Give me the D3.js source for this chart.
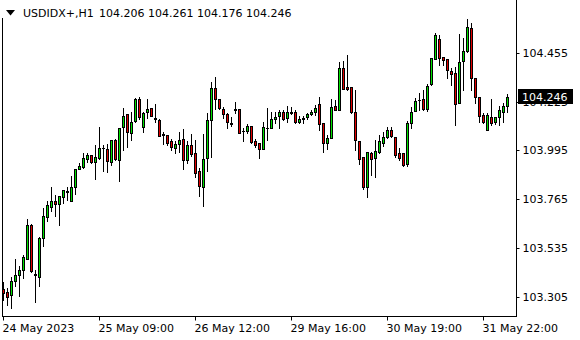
<!DOCTYPE html>
<html>
<head>
<meta charset="utf-8">
<script src="https://cdn.jsdelivr.net/npm/d3@7"></script>
<style>
  body { margin: 0; background: #fff; }
  svg { display: block; font-family: "DejaVu Sans", sans-serif; }
</style>
</head>
<body>
<svg id="chart" width="580" height="340"></svg>
<script>
const symbol = "USDIDX+,H1"

// hourly bars, oldest first
const opens = [
  103.341, 103.325, 103.315, 103.381, 103.405, 103.429, 103.485, 103.645, 103.414, 103.400,
  103.584, 103.681, 103.730, 103.756, 103.740, 103.773, 103.799, 103.758, 103.820, 103.905,
  103.914, 103.954, 103.973, 103.939, 103.957, 104.004, 104.000, 103.941, 104.042, 103.951,
  104.103, 104.165, 104.075, 104.133, 104.237, 104.103, 104.174, 104.193, 104.149, 104.138,
  104.072, 104.067, 104.039, 104.005, 104.026, 104.048, 103.951, 104.020, 103.981, 103.898,
  103.824, 103.957, 104.138, 104.287, 104.235, 104.190, 104.166, 104.125, 104.192, 104.188,
  104.087, 104.087, 104.110, 104.040, 104.028, 104.000, 104.100, 104.099, 104.141, 104.157,
  104.174, 104.146, 104.176, 104.177, 104.128, 104.141, 104.151, 104.166, 104.177, 104.213,
  104.122, 104.028, 104.052, 104.204, 104.185, 104.382, 104.295, 104.292, 104.177, 104.040,
  103.962, 103.821, 103.981, 103.961, 103.988, 104.031, 104.056, 104.091, 104.059, 103.981,
  103.981, 103.930, 104.122, 104.182, 104.232, 104.235, 104.188, 104.308, 104.424, 104.518,
  104.433, 104.424, 104.369, 104.358, 104.217, 104.417, 104.464, 104.570, 104.334, 104.245,
  104.161, 104.091, 104.151, 104.130, 104.151, 104.177, 104.206
]
const highs = [
  103.374, 103.344, 103.398, 103.483, 103.450, 103.502, 103.671, 103.648, 103.431, 103.586,
  103.723, 103.758, 103.822, 103.784, 103.780, 103.806, 103.820, 103.874, 103.907, 103.935,
  103.980, 103.980, 103.973, 104.020, 104.105, 104.020, 104.025, 104.042, 104.048, 104.099,
  104.193, 104.166, 104.174, 104.243, 104.246, 104.177, 104.237, 104.193, 104.212, 104.143,
  104.083, 104.067, 104.048, 104.039, 104.080, 104.095, 104.039, 104.070, 104.044, 103.913,
  104.070, 104.170, 104.318, 104.339, 104.235, 104.200, 104.172, 104.151, 104.221, 104.188,
  104.099, 104.119, 104.110, 104.047, 104.028, 104.130, 104.193, 104.177, 104.177, 104.185,
  104.185, 104.204, 104.198, 104.185, 104.157, 104.157, 104.172, 104.185, 104.209, 104.245,
  104.122, 104.067, 104.235, 104.232, 104.413, 104.417, 104.444, 104.292, 104.279, 104.040,
  103.962, 103.988, 103.988, 104.044, 104.067, 104.083, 104.103, 104.106, 104.059, 104.005,
  103.981, 104.133, 104.200, 104.240, 104.264, 104.279, 104.308, 104.429, 104.547, 104.538,
  104.433, 104.424, 104.382, 104.389, 104.543, 104.523, 104.612, 104.594, 104.334, 104.245,
  104.170, 104.170, 104.235, 104.153, 104.204, 104.217, 104.261
]
const lows = [
  103.289, 103.266, 103.252, 103.355, 103.308, 103.393, 103.483, 103.422, 103.282, 103.355,
  103.542, 103.662, 103.707, 103.683, 103.645, 103.747, 103.761, 103.756, 103.789, 103.905,
  103.912, 103.938, 103.933, 103.860, 103.956, 103.898, 103.894, 103.926, 103.949, 103.850,
  103.996, 104.012, 104.044, 104.130, 104.143, 104.080, 104.149, 104.158, 104.130, 104.062,
  104.023, 104.020, 103.996, 103.981, 103.986, 103.907, 103.934, 103.970, 103.871, 103.781,
  103.734, 103.898, 103.965, 104.188, 104.188, 104.146, 104.101, 104.110, 104.170, 104.077,
  104.039, 104.075, 104.031, 104.009, 103.960, 104.000, 104.044, 104.099, 104.122, 104.099,
  104.138, 104.130, 104.166, 104.125, 104.125, 104.125, 104.141, 104.161, 104.161, 104.091,
  103.988, 104.000, 104.052, 104.185, 104.183, 104.283, 104.279, 104.171, 103.996, 103.930,
  103.813, 103.774, 103.879, 103.869, 103.981, 104.015, 104.052, 104.059, 103.965, 103.949,
  103.921, 103.921, 104.099, 104.180, 104.185, 104.185, 104.182, 104.303, 104.424, 104.397,
  104.397, 104.334, 104.303, 104.114, 104.217, 104.279, 104.460, 104.279, 104.217, 104.130,
  104.122, 104.091, 104.114, 104.119, 104.114, 104.130, 104.176
]
const closes = [
  103.322, 103.305, 103.381, 103.407, 103.429, 103.492, 103.645, 103.424, 103.405, 103.584,
  103.685, 103.737, 103.756, 103.742, 103.780, 103.806, 103.803, 103.820, 103.905, 103.921,
  103.961, 103.973, 103.939, 103.962, 104.005, 104.006, 103.946, 104.042, 103.955, 104.099,
  104.158, 104.080, 104.127, 104.237, 104.153, 104.170, 104.188, 104.158, 104.141, 104.064,
  104.069, 104.031, 104.012, 104.023, 104.042, 103.951, 104.020, 103.976, 103.890, 103.828,
  103.953, 104.138, 104.287, 104.235, 104.193, 104.166, 104.127, 104.119, 104.187, 104.078,
  104.085, 104.110, 104.036, 104.020, 104.000, 104.103, 104.100, 104.141, 104.151, 104.174,
  104.141, 104.177, 104.173, 104.130, 104.141, 104.147, 104.165, 104.177, 104.196, 104.119,
  104.028, 104.052, 104.198, 104.185, 104.382, 104.283, 104.284, 104.177, 104.044, 103.953,
  103.822, 103.988, 103.956, 103.992, 104.040, 104.059, 104.091, 104.062, 103.971, 103.957,
  103.926, 104.122, 104.177, 104.229, 104.234, 104.188, 104.298, 104.429, 104.538, 104.429,
  104.421, 104.374, 104.353, 104.213, 104.413, 104.464, 104.575, 104.334, 104.245, 104.157,
  104.130, 104.161, 104.125, 104.151, 104.185, 104.204, 104.246
]

const priceTicks = [103.305, 103.535, 103.765, 103.995, 104.225, 104.455]
const timeTickBars = [0, 24, 48, 72, 96, 120]
const timeLabels = ["24 May 2023", "25 May 09:00", "26 May 12:00", "29 May 16:00", "30 May 19:00", "31 May 22:00"]

const bars = opens.map((o, i) => ({ i, o, h: highs[i], l: lows[i], c: closes[i] }))
const last = bars[bars.length - 1]

const svg = d3.select('#chart')
const fmt = d3.format('.3f')

const x = d3.scaleLinear().domain([0, bars.length - 1]).range([3.5, 507.5])
const y = d3.scaleLinear().domain([103.305, 104.455]).range([296.7, 52.7])
const py = v => Math.round(y(v))

// frame
svg.append('line').attr('x1', 2.5).attr('x2', 2.5).attr('y1', 18).attr('y2', 317).attr('stroke', '#000')
svg.append('line').attr('x1', 2).attr('x2', 517).attr('y1', 316.5).attr('y2', 316.5).attr('stroke', '#000')
svg.append('line').attr('x1', 516.5).attr('x2', 516.5).attr('y1', 0).attr('y2', 317).attr('stroke', '#000')

// price axis
const yAxis = svg.append('g')
  .attr('transform', 'translate(516.5,0)')
  .call(d3.axisRight(y).offset(0).tickValues(priceTicks).tickFormat(fmt).tickSize(3).tickPadding(3))
yAxis.select('.domain').remove()
yAxis.selectAll('.tick').attr('transform', d => `translate(0,${py(d) + 0.5})`)
yAxis.selectAll('text').attr('font-size', 11).attr('font-family', '"DejaVu Sans", sans-serif').attr('fill', '#000')

// time axis
const xAxis = svg.append('g')
  .attr('transform', 'translate(0,316.5)')
  .call(d3.axisBottom(x).offset(0).tickValues(timeTickBars).tickFormat((d, k) => timeLabels[k]).tickSize(4).tickPadding(4))
xAxis.select('.domain').remove()
xAxis.selectAll('text')
  .attr('text-anchor', 'start').attr('x', -1)
  .attr('font-size', 11).attr('font-family', '"DejaVu Sans", sans-serif').attr('fill', '#000')

// candles
const candles = svg.append('g')
const g = candles.selectAll('g').data(bars).enter().append('g')

g.append('line')
  .attr('x1', d => x(d.i)).attr('x2', d => x(d.i))
  .attr('y1', d => py(d.h)).attr('y2', d => py(d.l) + 1)
  .attr('stroke', '#000')

g.append('rect')
  .attr('x', d => x(d.i) - 1.5)
  .attr('y', d => py(Math.max(d.o, d.c)))
  .attr('width', 3)
  .attr('height', d => Math.max(1, py(Math.min(d.o, d.c)) - py(Math.max(d.o, d.c)) + 1))
  .attr('fill', '#000')

g.filter(d => py(Math.min(d.o, d.c)) - py(Math.max(d.o, d.c)) >= 2)
  .append('rect')
  .attr('x', d => x(d.i) - 0.5)
  .attr('y', d => py(Math.max(d.o, d.c)) + 1)
  .attr('width', 1)
  .attr('height', d => py(Math.min(d.o, d.c)) - py(Math.max(d.o, d.c)) - 1)
  .attr('fill', d => d.c > d.o ? '#00e000' : '#e00000')

// header
svg.append('path').attr('d', 'M6,10 L15,10 L10.5,15.5 Z').attr('fill', '#000')
svg.append('text').attr('x', 23).attr('y', 17).attr('font-size', 11).text(symbol)
svg.append('text').attr('x', 99).attr('y', 17).attr('font-size', 11)
  .text([last.o, last.h, last.l, last.c].map(fmt).join(' '))

// last price label (drawn over the axis label beneath it, as in the terminal)
svg.append('rect').attr('x', 518).attr('y', py(last.c) - 8).attr('width', 55).attr('height', 15).attr('fill', '#000')
svg.append('text').attr('x', 522).attr('y', py(last.c) + 4).attr('font-size', 11).attr('fill', '#fff').text(fmt(last.c))
</script>
</body>
</html>
